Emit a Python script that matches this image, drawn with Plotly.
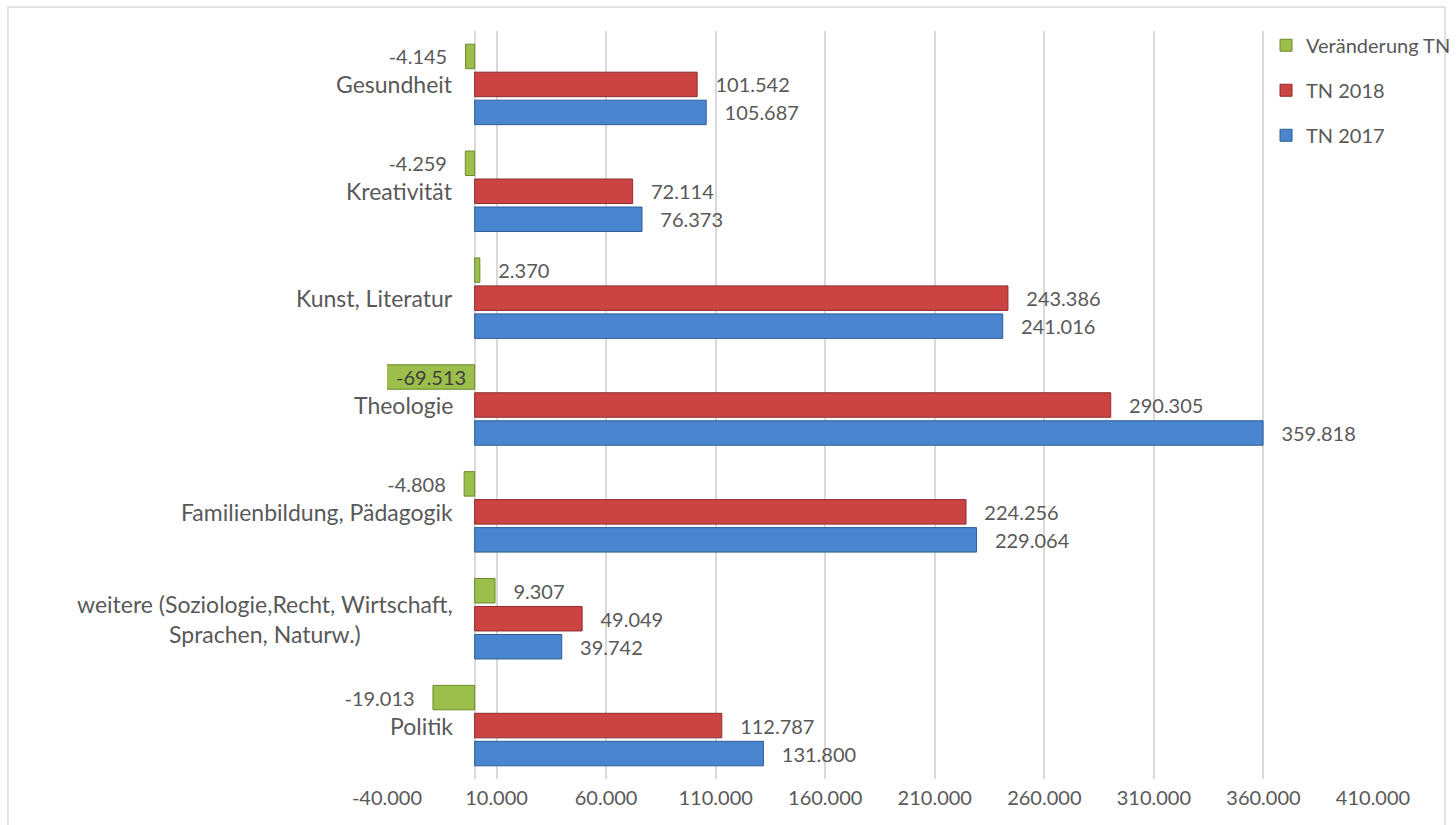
import plotly.graph_objects as go

categories = [
    "Politik",
    "weitere (Soziologie,Recht, Wirtschaft,<br>Sprachen, Naturw.)",
    "Familienbildung, Pädagogik",
    "Theologie",
    "Kunst, Literatur",
    "Kreativität",
    "Gesundheit",
]
tn_2017 = [131800, 39742, 229064, 359818, 241016, 76373, 105687]
tn_2018 = [112787, 49049, 224256, 290305, 243386, 72114, 101542]
veraenderung = [-19013, 9307, -4808, -69513, 2370, -4259, -4145]

x_min, x_max, x_dtick = -40000, 410000, 50000
tick_vals = list(range(x_min, x_max + 1, x_dtick))
tick_text = [f"{v:,}".replace(",", ".") for v in tick_vals]

W, H = 1456, 825
M = dict(l=387, r=83, t=31, b=46)
BARGAP, GROUPGAP = 0.214, 0.125

FONT = "Lato, 'Open Sans', sans-serif"
TXT = "#595959"
NB = "\u00a0\u00a0\u00a0"


def fmt(v):
    return f"{v:,}".replace(",", ".")


def templates(values):
    out = []
    for v in values:
        if v >= 0:
            out.append(NB + "%{x:,.0f}")
        else:
            out.append("%{x:,.0f}" + NB)
    return out


def positions(values):
    # bars running past the axis minimum get their label placed inside the visible part
    return ["none" if v < x_min else "outside" for v in values]


series = [
    ("TN 2017", tn_2017, "#4A86CF", "#2F5E97", 3),
    ("TN 2018", tn_2018, "#CC4343", "#8E2C2C", 2),
    ("Veränderung TN", veraenderung, "#9CBE4A", "#6C8B2E", 1),
]

fig = go.Figure()
for name, vals, fill, line, rank in series:
    fig.add_trace(go.Bar(
        y=categories, x=vals, orientation="h", name=name,
        legendgroup=name, legendrank=rank,
        marker=dict(color=fill, line=dict(color=line, width=1)),
        texttemplate=templates(vals),
        textposition=positions(vals),
        textangle=0,
        textfont=dict(family=FONT, size=20, color=TXT),
        outsidetextfont=dict(family=FONT, size=20, color=TXT),
        constraintext="none",
        cliponaxis=False,
        hoverinfo="x+y+name",
    ))

# labels for clipped bars: centred on the visible part of the bar
band_px = (H - M["t"] - M["b"]) / len(categories)
slot_px = band_px * (1 - BARGAP) / len(series)
for idx, (name, vals, fill, line, rank) in enumerate(series):
    offset = (idx - (len(series) - 1) / 2) * slot_px
    for cat, v in zip(categories, vals):
        if v < x_min:
            fig.add_annotation(
                x=x_min / 2, y=cat, xref="x", yref="y", text=fmt(v),
                showarrow=False, xanchor="center", yanchor="middle",
                yshift=offset, font=dict(family=FONT, size=20, color="#404040"),
            )

for cat in categories:
    fig.add_annotation(
        x=0, y=cat, xref="x", yref="y", text=cat, showarrow=False,
        xanchor="right", yanchor="middle", align="center", xshift=-20,
        font=dict(family=FONT, size=23, color=TXT),
    )

fig.add_shape(
    type="rect", xref="paper", yref="paper",
    x0=-0.3844, x1=1.073, y0=-0.08, y1=1.032,
    line=dict(color="#D9D9D9", width=1.5), fillcolor="rgba(0,0,0,0)",
    layer="below",
)

fig.update_layout(
    width=W, height=H,
    margin=dict(**M, autoexpand=False),
    paper_bgcolor="white", plot_bgcolor="white",
    separators=",.",
    barmode="group", bargap=BARGAP, bargroupgap=GROUPGAP,
    font=dict(family=FONT, size=20, color=TXT),
    showlegend=True,
    legend=dict(
        x=0.8915, y=1.007, xanchor="left", yanchor="top",
        traceorder="grouped", tracegroupgap=16,
        bgcolor="rgba(0,0,0,0)", font=dict(family=FONT, size=20, color=TXT),
    ),
    xaxis=dict(
        range=[x_min, x_max], tickmode="array", tickvals=tick_vals, ticktext=tick_text,
        showgrid=True, gridcolor="#D9D9D9", gridwidth=1.5,
        zeroline=True, zerolinecolor="#D9D9D9", zerolinewidth=1.5,
        showline=False, ticks="", ticklabelstandoff=5,
        tickfont=dict(family=FONT, size=20, color=TXT),
    ),
    yaxis=dict(
        categoryorder="array", categoryarray=categories,
        showticklabels=False, showgrid=False, zeroline=False, showline=False,
        ticks="",
    ),
)

fig.write_html(
    "out.html",
    config={"displayModeBar": False},
    post_script="document.body.style.margin='0';document.body.style.overflow='hidden';",
)
